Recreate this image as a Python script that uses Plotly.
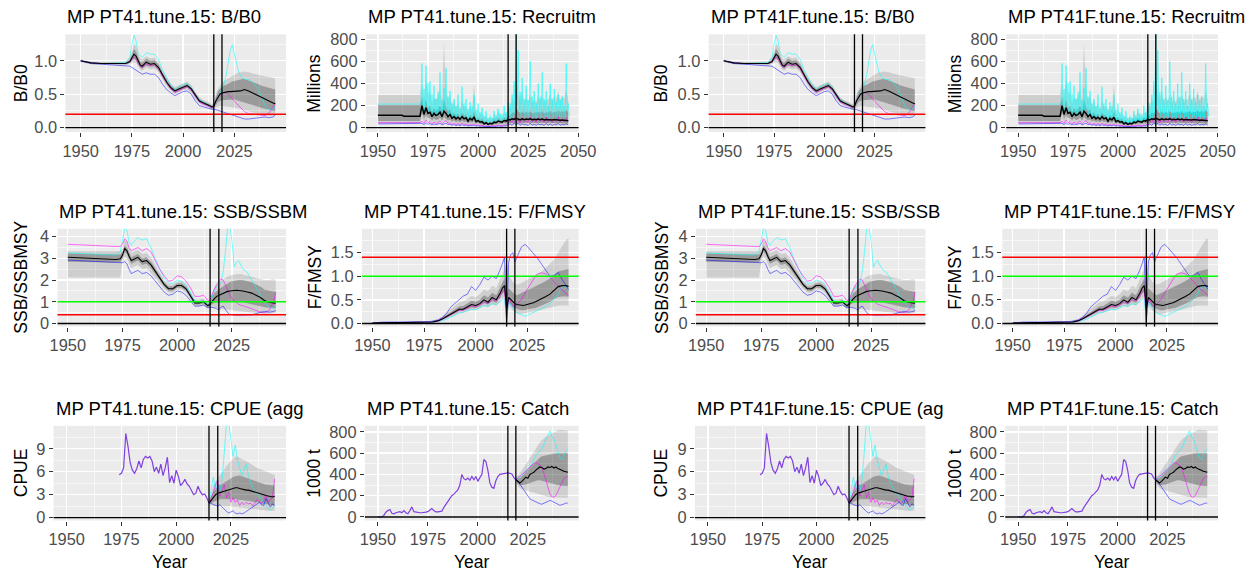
import plotly.graph_objects as go

W, H = 1254, 573

# ---------------- shared year grid for B/B0, SSB/SSBMSY, F/FMSY ----------------
YA = [1950, 1955, 1960, 1965, 1970,
      1972, 1974, 1975, 1976, 1977, 1978, 1979, 1980,
      1982, 1984, 1986, 1988, 1990, 1992, 1994, 1996, 1998, 2000,
      2002, 2004, 2006, 2008, 2010, 2012, 2013, 2014,
      2015, 2016, 2017, 2018, 2019, 2020, 2021, 2022, 2023, 2024,
      2025, 2026, 2027, 2028, 2029, 2030,
      2032, 2034, 2036, 2038, 2040, 2042, 2044, 2045]

# ---------------- B/B0 ----------------
BB0_MED = [1.00, 0.97, 0.96, 0.96, 0.96,
           0.96, 0.99, 1.04, 1.10, 1.07, 1.00, 0.94, 0.92,
           0.98, 0.95, 0.96, 0.90, 0.78, 0.68, 0.60, 0.55, 0.58, 0.61,
           0.63, 0.58, 0.48, 0.40, 0.37, 0.35, 0.33, 0.31,
           0.32, 0.40, 0.46, 0.50, 0.52, 0.53, 0.53, 0.54, 0.54, 0.54,
           0.54, 0.55, 0.55, 0.55, 0.56, 0.57,
           0.55, 0.52, 0.48, 0.45, 0.42, 0.39, 0.37, 0.36]
BB0_Q25 = [0.99, 0.96, 0.95, 0.95, 0.95,
           0.95, 0.97, 1.00, 1.03, 1.01, 0.95, 0.90, 0.88,
           0.93, 0.91, 0.92, 0.86, 0.75, 0.65, 0.57, 0.52, 0.55, 0.58,
           0.60, 0.55, 0.45, 0.38, 0.35, 0.33, 0.31, 0.29,
           0.29, 0.34, 0.38, 0.40, 0.41, 0.42, 0.42, 0.42, 0.42, 0.42,
           0.42, 0.41, 0.41, 0.40, 0.39, 0.38,
           0.36, 0.34, 0.32, 0.30, 0.28, 0.27, 0.25, 0.25]
BB0_Q75 = [1.01, 0.98, 0.97, 0.97, 0.97,
           0.97, 1.02, 1.10, 1.18, 1.14, 1.06, 0.99, 0.97,
           1.03, 1.00, 1.01, 0.95, 0.82, 0.72, 0.63, 0.58, 0.61, 0.64,
           0.66, 0.61, 0.51, 0.43, 0.39, 0.37, 0.35, 0.33,
           0.35, 0.45, 0.54, 0.58, 0.61, 0.63, 0.64, 0.66, 0.67, 0.69,
           0.70, 0.71, 0.72, 0.73, 0.73, 0.73,
           0.71, 0.68, 0.66, 0.63, 0.61, 0.60, 0.58, 0.57]
BB0_Q10 = [0.98, 0.95, 0.94, 0.94, 0.93,
           0.93, 0.95, 0.97, 0.98, 0.97, 0.92, 0.87, 0.85,
           0.90, 0.87, 0.88, 0.83, 0.72, 0.62, 0.55, 0.50, 0.53, 0.56,
           0.57, 0.52, 0.43, 0.36, 0.33, 0.31, 0.29, 0.27,
           0.27, 0.30, 0.32, 0.33, 0.33, 0.32, 0.32, 0.31, 0.31, 0.30,
           0.30, 0.29, 0.29, 0.28, 0.28, 0.27,
           0.25, 0.23, 0.21, 0.19, 0.18, 0.17, 0.17, 0.17]
BB0_Q90 = [1.02, 0.99, 0.98, 0.98, 0.99,
           0.99, 1.05, 1.16, 1.26, 1.22, 1.12, 1.04, 1.02,
           1.07, 1.04, 1.05, 0.98, 0.85, 0.75, 0.66, 0.61, 0.64, 0.67,
           0.69, 0.64, 0.53, 0.45, 0.41, 0.39, 0.37, 0.35,
           0.37, 0.50, 0.58, 0.63, 0.67, 0.70, 0.72, 0.74, 0.76, 0.78,
           0.80, 0.81, 0.82, 0.83, 0.84, 0.84,
           0.83, 0.81, 0.80, 0.78, 0.77, 0.76, 0.75, 0.74]
BB0_CYAN = [1.00, 0.97, 0.96, 0.96, 0.97,
            0.98, 1.05, 1.25, 1.38, 1.30, 1.12, 1.08, 1.05,
            1.12, 1.10, 1.10, 1.02, 0.86, 0.74, 0.64, 0.58, 0.61, 0.65,
            0.66, 0.60, 0.49, 0.41, 0.38, 0.35, 0.33, 0.31,
            0.33, 0.40, 0.46, 0.52, 0.58, 0.66, 0.78, 0.98, 1.15, 1.24,
            1.10, 0.95, 0.85, 0.78, 0.74, 0.72,
            0.72, 0.68, 0.60, 0.48, 0.33, 0.27, 0.28, 0.32]
BB0_MAG = [1.00, 0.97, 0.96, 0.96, 0.96,
           0.96, 0.98, 1.02, 1.06, 1.03, 0.96, 0.92, 0.90,
           0.95, 0.93, 0.94, 0.88, 0.76, 0.66, 0.58, 0.53, 0.56, 0.59,
           0.61, 0.56, 0.46, 0.38, 0.35, 0.33, 0.31, 0.30,
           0.32, 0.40, 0.46, 0.50, 0.52, 0.53, 0.52, 0.50, 0.47, 0.43,
           0.40, 0.37, 0.34, 0.30, 0.27, 0.24,
           0.21, 0.20, 0.20, 0.19, 0.18, 0.22, 0.32, 0.36]
BB0_BLUE = [1.00, 0.96, 0.95, 0.94, 0.93,
            0.93, 0.92, 0.90, 0.88, 0.87, 0.84, 0.82, 0.80,
            0.82, 0.80, 0.80, 0.75, 0.65, 0.57, 0.52, 0.48, 0.51, 0.54,
            0.55, 0.50, 0.40, 0.33, 0.31, 0.29, 0.28, 0.27,
            0.27, 0.27, 0.26, 0.26, 0.25, 0.23, 0.22, 0.21, 0.20, 0.19,
            0.19, 0.18, 0.17, 0.15, 0.14, 0.13,
            0.13, 0.14, 0.15, 0.15, 0.16, 0.15, 0.16, 0.19]

# ---------------- SSB/SSBMSY ----------------
SSB_MED = [3.05, 3.02, 3.00, 2.98, 2.96,
           2.95, 2.98, 3.15, 3.45, 3.35, 3.10, 2.90, 2.95,
           3.05, 2.85, 2.90, 2.70, 2.40, 2.10, 1.80, 1.60, 1.60, 1.75,
           1.75, 1.60, 1.30, 0.95, 0.95, 1.00, 0.90, 0.82,
           0.90, 1.05, 1.15, 1.25, 1.30, 1.35, 1.40, 1.45, 1.48, 1.50,
           1.52, 1.52, 1.53, 1.52, 1.52, 1.50,
           1.45, 1.40, 1.30, 1.20, 1.05, 0.98, 0.95, 0.93]
SSB_Q25 = [2.85, 2.84, 2.83, 2.82, 2.81,
           2.80, 2.82, 3.00, 3.30, 3.20, 2.95, 2.75, 2.80,
           2.90, 2.70, 2.75, 2.55, 2.27, 1.98, 1.70, 1.50, 1.50, 1.65,
           1.65, 1.50, 1.20, 0.87, 0.87, 0.92, 0.82, 0.75,
           0.80, 0.90, 0.95, 0.98, 1.00, 1.00, 1.00, 1.00, 1.00, 1.00,
           1.00, 1.00, 1.00, 1.00, 1.00, 0.98,
           0.95, 0.90, 0.85, 0.80, 0.75, 0.72, 0.70, 0.70]
SSB_Q75 = [3.22, 3.21, 3.20, 3.19, 3.18,
           3.17, 3.18, 3.30, 3.60, 3.50, 3.25, 3.05, 3.10,
           3.20, 3.00, 3.05, 2.85, 2.53, 2.22, 1.90, 1.70, 1.70, 1.85,
           1.85, 1.70, 1.40, 1.03, 1.03, 1.08, 0.98, 0.90,
           1.00, 1.25, 1.40, 1.50, 1.58, 1.65, 1.72, 1.80, 1.85, 1.90,
           1.95, 1.97, 2.00, 2.00, 2.00, 2.00,
           1.95, 1.90, 1.80, 1.70, 1.55, 1.50, 1.48, 1.45]
SSB_Q10 = [2.12, 2.12, 2.12, 2.12, 2.12,
           2.12, 2.12, 2.85, 3.10, 3.00, 2.75, 2.55, 2.60,
           2.70, 2.50, 2.55, 2.35, 2.10, 1.85, 1.60, 1.42, 1.42, 1.55,
           1.55, 1.42, 1.12, 0.80, 0.80, 0.85, 0.76, 0.70,
           0.72, 0.75, 0.75, 0.72, 0.70, 0.68, 0.66, 0.64, 0.62, 0.60,
           0.60, 0.58, 0.57, 0.56, 0.55, 0.55,
           0.53, 0.50, 0.48, 0.46, 0.45, 0.46, 0.48, 0.50]
SSB_Q90 = [3.33, 3.33, 3.33, 3.33, 3.33,
           3.33, 3.33, 3.45, 3.85, 3.75, 3.45, 3.25, 3.30,
           3.40, 3.20, 3.25, 3.05, 2.70, 2.35, 2.00, 1.80, 1.80, 1.95,
           1.95, 1.80, 1.48, 1.10, 1.10, 1.15, 1.05, 0.97,
           1.10, 1.45, 1.65, 1.80, 1.90, 1.98, 2.05, 2.10, 2.15, 2.20,
           2.25, 2.25, 2.28, 2.28, 2.28, 2.25,
           2.20, 2.15, 2.10, 2.05, 2.00, 2.00, 2.05, 2.00]
SSB_CYAN = [3.25, 3.22, 3.20, 3.18, 3.16,
            3.15, 3.30, 3.80, 4.40, 4.30, 3.75, 3.60, 3.75,
            3.95, 3.85, 3.90, 3.50, 2.95, 2.50, 2.10, 1.85, 1.85, 2.00,
            1.95, 1.80, 1.45, 1.05, 1.00, 1.05, 0.95, 0.85,
            0.95, 1.30, 1.55, 1.70, 1.75, 1.90, 2.40, 3.30, 4.40, 4.50,
            3.80, 2.60, 2.80, 2.90, 2.70, 2.50,
            2.35, 2.00, 1.70, 1.30, 0.95, 0.75, 0.70, 0.85]
SSB_MAG = [3.65, 3.62, 3.60, 3.58, 3.56,
           3.55, 3.55, 3.65, 3.90, 3.80, 3.50, 3.35, 3.40,
           3.50, 3.35, 3.45, 3.30, 2.90, 2.50, 2.20, 1.95, 2.00, 2.20,
           2.15, 1.95, 1.65, 1.25, 1.25, 1.30, 1.20, 1.05,
           1.10, 1.40, 1.60, 1.80, 1.95, 2.05, 2.00, 1.75, 1.50, 1.30,
           1.15, 1.05, 0.95, 0.88, 0.85, 0.82,
           0.75, 0.68, 0.60, 0.52, 0.50, 0.60, 1.00, 1.45]
SSB_BLUE = [2.92, 2.90, 2.88, 2.86, 2.84,
            2.83, 2.82, 2.80, 2.85, 2.75, 2.50, 2.30, 2.35,
            2.45, 2.30, 2.35, 2.20, 1.95, 1.70, 1.45, 1.30, 1.35, 1.50,
            1.45, 1.30, 1.05, 0.80, 0.80, 0.85, 0.78, 0.72,
            0.75, 0.75, 0.72, 0.68, 0.62, 0.75, 0.80, 0.65, 0.50, 0.42,
            0.40, 0.39, 0.38, 0.38, 0.38, 0.38,
            0.38, 0.40, 0.45, 0.52, 0.55, 0.52, 0.55, 0.60]

# ---------------- F/FMSY ----------------
F_MED = [0.01, 0.02, 0.02, 0.02, 0.02,
         0.02, 0.02, 0.02, 0.02, 0.02, 0.03, 0.03, 0.04,
         0.06, 0.10, 0.15, 0.20, 0.25, 0.30, 0.30, 0.35, 0.40, 0.38,
         0.42, 0.50, 0.45, 0.55, 0.50, 0.65, 0.75, 0.80,
         0.30, 0.55, 0.50, 0.45, 0.42, 0.40, 0.39, 0.38, 0.38, 0.39,
         0.40, 0.41, 0.42, 0.44, 0.46, 0.48,
         0.52, 0.57, 0.62, 0.70, 0.78, 0.80, 0.80, 0.78]
F_Q25 = [0.01, 0.02, 0.02, 0.02, 0.02,
         0.02, 0.02, 0.02, 0.02, 0.02, 0.03, 0.03, 0.04,
         0.05, 0.08, 0.12, 0.17, 0.22, 0.26, 0.27, 0.30, 0.34, 0.33,
         0.37, 0.43, 0.40, 0.47, 0.44, 0.55, 0.63, 0.67,
         0.10, 0.45, 0.40, 0.35, 0.32, 0.30, 0.29, 0.28, 0.28, 0.28,
         0.29, 0.30, 0.31, 0.32, 0.33, 0.35,
         0.38, 0.42, 0.46, 0.52, 0.56, 0.57, 0.57, 0.56]
F_Q75 = [0.01, 0.02, 0.02, 0.02, 0.02,
         0.02, 0.02, 0.03, 0.03, 0.03, 0.04, 0.04, 0.05,
         0.07, 0.13, 0.19, 0.25, 0.30, 0.36, 0.37, 0.42, 0.48, 0.46,
         0.50, 0.60, 0.55, 0.65, 0.60, 0.78, 0.88, 0.95,
         0.60, 0.75, 0.70, 0.65, 0.62, 0.60, 0.62, 0.64, 0.66, 0.68,
         0.70, 0.72, 0.74, 0.76, 0.78, 0.80,
         0.85, 0.90, 0.95, 1.02, 1.10, 1.12, 1.15, 1.15]
F_Q10 = [0.01, 0.01, 0.01, 0.01, 0.01,
         0.01, 0.01, 0.01, 0.01, 0.02, 0.02, 0.02, 0.03,
         0.04, 0.06, 0.10, 0.14, 0.18, 0.22, 0.23, 0.26, 0.29, 0.28,
         0.32, 0.37, 0.35, 0.40, 0.38, 0.47, 0.53, 0.56,
         0.02, 0.38, 0.32, 0.27, 0.24, 0.22, 0.21, 0.20, 0.20, 0.21,
         0.22, 0.23, 0.24, 0.25, 0.26, 0.27,
         0.29, 0.31, 0.33, 0.36, 0.38, 0.38, 0.38, 0.37]
F_Q90 = [0.02, 0.03, 0.03, 0.03, 0.03,
         0.03, 0.03, 0.03, 0.03, 0.04, 0.05, 0.05, 0.06,
         0.09, 0.16, 0.24, 0.30, 0.38, 0.45, 0.47, 0.52, 0.58, 0.56,
         0.62, 0.72, 0.68, 0.80, 0.75, 0.95, 1.05, 1.15,
         1.30, 1.05, 0.95, 0.88, 0.85, 0.82, 0.83, 0.85, 0.88, 0.90,
         0.93, 0.96, 0.98, 1.00, 1.02, 1.05,
         1.10, 1.18, 1.25, 1.35, 1.50, 1.65, 1.78, 1.80]
F_BLUE = [0.01, 0.03, 0.03, 0.03, 0.03,
          0.03, 0.03, 0.03, 0.03, 0.04, 0.04, 0.05, 0.06,
          0.08, 0.13, 0.22, 0.35, 0.42, 0.50, 0.58, 0.62, 0.78, 0.70,
          0.82, 0.98, 0.92, 1.00, 0.95, 1.15, 1.30, 1.40,
          0.02, 1.30, 1.45, 1.50, 1.30, 1.40, 1.50, 1.60, 1.65, 1.67,
          1.63, 1.58, 1.53, 1.48, 1.43, 1.38,
          1.25, 1.12, 1.00, 1.02, 1.08, 0.92, 0.78, 0.72]
F_CYAN = [0.01, 0.01, 0.01, 0.01, 0.01,
          0.01, 0.01, 0.01, 0.02, 0.02, 0.02, 0.02, 0.03,
          0.04, 0.06, 0.09, 0.13, 0.17, 0.22, 0.24, 0.27, 0.30, 0.29,
          0.33, 0.38, 0.36, 0.42, 0.40, 0.48, 0.50, 0.52,
          0.10, 0.45, 0.38, 0.32, 0.27, 0.22, 0.20, 0.18, 0.16, 0.15,
          0.17, 0.19, 0.21, 0.24, 0.26, 0.28,
          0.32, 0.36, 0.42, 0.52, 0.62, 0.80, 0.76, 0.72]
F_MAG = [0.01, 0.02, 0.02, 0.02, 0.02,
         0.02, 0.02, 0.02, 0.02, 0.02, 0.03, 0.03, 0.04,
         0.05, 0.09, 0.14, 0.19, 0.23, 0.28, 0.28, 0.32, 0.37, 0.35,
         0.39, 0.46, 0.42, 0.51, 0.47, 0.60, 0.68, 0.72,
         0.05, 0.55, 0.45, 0.38, 0.35, 0.40, 0.45, 0.50, 0.58, 0.65,
         0.72, 0.80, 0.88, 0.95, 1.00, 1.05,
         1.07, 1.05, 0.98, 0.88, 0.78, 0.70, 0.63, 0.60]

# ---------------- Recruitment (millions) ----------------
REC_YEARS = [1950, 1962, 1963, 1965, 1966, 1967, 1971] + list(range(1972, 2046))
# the cyan worm is recorded twice a year (seasonal recruitment)
REC_CYAN_T = [1950, 1971.5] + [y + h for y in range(1972, 2046) for h in (0.0, 0.5)]
REC_CYAN = [214, 214,
            580, 150, 350, 120, 560, 200, 400, 130,
            420, 150, 300, 110, 380, 140, 260, 100,
            320, 130, 500, 150, 250, 110, 360, 140,
            540, 160, 280, 110, 330, 120, 220, 90,
            260, 100, 200, 80, 300, 110, 180, 80,
            370, 120, 220, 90, 260, 100, 170, 70,
            230, 90, 200, 80, 300, 100, 160, 60,
            220, 70, 140, 60, 180, 60, 110, 40,
            150, 50, 90, 35, 110, 40, 90, 40,
            150, 50, 110, 45, 170, 60, 130, 50,
            120, 50, 200, 70, 140, 60, 230, 80,
            220, 80, 300, 90, 420, 120, 850, 200,
            700, 150, 320, 100, 450, 130, 260, 90,
            380, 110, 250, 90, 600, 150, 280, 90,
            330, 100, 220, 80, 400, 120, 280, 90,
            500, 130, 260, 90, 330, 100, 200, 80,
            400, 120, 260, 90, 350, 110, 230, 80,
            300, 100, 250, 90, 280, 100, 200, 80,
            580, 150, 220, 100]
REC_Q90 = [296, 296, 296, 296, 296, 296, 296,
           400, 250, 450, 300, 330, 200, 280, 250,
           280, 350, 250, 780, 350, 250, 300, 200, 250, 180,
           220, 160, 250, 180, 200, 130, 200, 150, 400, 120,
           180, 110, 140, 90, 110, 70, 100, 80, 130, 100,
           150, 110, 100, 140, 120, 200, 180, 280, 220, 480,
           300, 250, 330, 220, 280, 240, 300, 220, 260, 230,
           280, 240, 300, 230, 260, 250, 310, 240, 280, 260,
           330, 250, 290, 260, 340, 250]
REC_Q75 = [205, 205, 205, 205, 205, 205, 205,
           280, 170, 260, 180, 200, 140, 180, 150,
           170, 200, 150, 260, 190, 150, 170, 120, 140, 110,
           130, 100, 140, 110, 120, 85, 120, 95, 150, 80,
           100, 70, 85, 55, 70, 45, 65, 55, 80, 65,
           90, 75, 70, 95, 85, 120, 110, 140, 130, 180,
           150, 130, 150, 130, 145, 135, 150, 130, 140, 135,
           145, 135, 150, 130, 140, 140, 150, 135, 145, 140,
           155, 140, 150, 140, 160, 140]
REC_MED = [113, 113, 104, 104, 110, 104, 104,
           200, 120, 180, 130, 140, 100, 130, 110,
           120, 140, 100, 150, 130, 100, 120, 85, 100, 80,
           95, 75, 100, 80, 90, 60, 85, 70, 95, 55,
           65, 50, 55, 35, 45, 30, 40, 35, 50, 45,
           60, 55, 50, 65, 60, 75, 70, 80, 75, 85,
           80, 70, 80, 72, 78, 74, 80, 72, 76, 73,
           78, 72, 78, 70, 74, 72, 76, 70, 74, 70,
           72, 68, 70, 66, 68, 64]
REC_Q25 = [60, 60, 60, 60, 60, 60, 60,
           130, 80, 110, 85, 90, 65, 85, 70,
           75, 90, 65, 95, 80, 65, 75, 55, 65, 50,
           60, 48, 62, 50, 56, 38, 52, 44, 58, 35,
           40, 32, 34, 22, 28, 20, 25, 22, 32, 28,
           38, 34, 32, 40, 38, 45, 42, 46, 44, 48,
           46, 42, 46, 43, 45, 44, 46, 42, 44, 43,
           45, 42, 45, 41, 43, 42, 44, 41, 43, 41,
           42, 40, 41, 39, 40, 38]
REC_Q10 = [40, 40, 40, 40, 40, 40, 40,
           80, 50, 70, 55, 58, 42, 55, 45,
           48, 58, 42, 60, 52, 42, 48, 36, 42, 33,
           39, 31, 40, 33, 36, 25, 34, 29, 37, 23,
           26, 21, 22, 14, 18, 13, 16, 14, 20, 18,
           24, 22, 20, 26, 24, 26, 24, 27, 25, 28,
           26, 24, 26, 24, 25, 25, 26, 24, 25, 24,
           25, 24, 25, 23, 24, 24, 25, 23, 24, 23,
           24, 22, 23, 22, 23, 21]
REC_MAG = [46, 46, 46, 46, 46, 46, 46,
           60, 40, 70, 45, 55, 35, 50, 40,
           45, 60, 35, 50, 65, 40, 45, 30, 40, 28,
           38, 26, 42, 30, 34, 22, 30, 25, 36, 20,
           26, 18, 22, 14, 18, 12, 16, 14, 20, 17,
           24, 20, 18, 25, 22, 40, 60, 45, 90, 55,
           70, 40, 85, 50, 65, 45, 100, 55, 75, 45,
           90, 60, 70, 50, 95, 55, 80, 45, 70, 60,
           100, 50, 75, 55, 90, 60]
REC_BLUE = [34, 34, 34, 34, 34, 34, 34,
            40, 28, 45, 30, 38, 25, 35, 28,
            32, 40, 25, 35, 42, 28, 32, 22, 28, 20,
            26, 18, 28, 20, 24, 15, 21, 17, 24, 14,
            18, 12, 15, 10, 12, 8, 11, 9, 14, 12,
            16, 14, 12, 17, 15, 25, 35, 20, 45, 30,
            40, 22, 35, 25, 30, 18, 40, 22, 30, 20,
            35, 25, 30, 20, 38, 22, 32, 20, 28, 25,
            40, 22, 30, 24, 36, 25]

# ---------------- CPUE (aggregate) ----------------
CPUE_OBS_YEARS = list(range(1974, 2016))
CPUE_OBS = [5.6, 5.8, 6.5, 11.0, 9.3, 7.2,
            6.2, 5.8, 6.4, 7.4, 6.5, 7.6, 8.0, 7.8, 8.0, 7.4,
            6.0, 6.6, 5.8, 7.0, 5.5, 6.5, 7.9, 4.6, 5.5, 4.5,
            6.2, 5.4, 4.2, 4.5, 5.0, 4.4, 4.1, 3.6, 3.0, 3.2,
            4.1, 3.4, 3.0, 3.1, 2.6, 1.9]
CPUE_YEARS = list(range(2015, 2046))
CPUE_MED = [1.9, 2.3, 2.7, 3.0, 3.2,
            3.3, 3.3, 3.4, 3.5, 3.6, 3.7, 3.8, 3.9, 3.9, 3.8,
            3.7, 3.7, 3.6, 3.6, 3.5, 3.5, 3.4, 3.3, 3.2, 3.1,
            3.0, 2.9, 2.8, 2.8, 2.7, 2.8]
CPUE_Q75 = [2.1, 2.8, 3.4, 3.8, 4.1,
            4.3, 4.4, 4.6, 4.8, 5.0, 5.2, 5.3, 5.4, 5.5, 5.5,
            5.4, 5.3, 5.2, 5.1, 5.0, 4.9, 4.8, 4.7, 4.6, 4.5,
            4.4, 4.3, 4.3, 4.2, 4.2, 4.2]
CPUE_Q25 = [1.8, 2.0, 2.1, 2.2, 2.3,
            2.4, 2.4, 2.4, 2.4, 2.4, 2.4, 2.4, 2.4, 2.4, 2.3,
            2.3, 2.3, 2.2, 2.2, 2.1, 2.1, 2.0, 2.0, 1.9, 1.9,
            1.8, 1.8, 1.7, 1.7, 1.6, 1.6]
CPUE_Q90 = [2.2, 3.4, 4.2, 4.8, 5.2,
            5.5, 5.9, 6.3, 6.7, 7.1, 7.4, 7.7, 8.0, 8.0, 7.8,
            7.6, 7.5, 7.4, 7.2, 7.0, 6.8, 6.6, 6.5, 6.4, 6.3,
            6.2, 6.0, 5.9, 5.8, 5.7, 5.6]
CPUE_Q10 = [1.6, 1.6, 1.6, 1.6, 1.6,
            1.6, 1.6, 1.5, 1.5, 1.5, 1.5, 1.4, 1.4, 1.4, 1.3,
            1.3, 1.3, 1.2, 1.2, 1.2, 1.1, 1.1, 1.1, 1.0, 1.0,
            1.0, 0.9, 0.9, 0.9, 0.9, 0.9]
CPUE_CYAN = [1.9, 3.5, 5.3, 3.6, 4.4,
             3.5, 5.0, 8.5, 12.5, 12.5, 10.0, 8.0, 9.5, 7.5, 6.5,
             5.5, 6.2, 7.0, 5.5, 4.5, 4.0, 3.5, 3.2, 2.8, 2.5,
             2.0, 1.6, 1.2, 1.0, 1.3, 1.5]
CPUE_MAG = [1.9, 2.5, 3.3, 4.3, 4.9,
            2.8, 3.6, 4.3, 2.6, 3.3, 2.0, 2.6, 2.0, 2.3, 1.6,
            2.0, 1.7, 2.0, 1.8, 1.9, 1.5, 1.9, 2.4, 2.1, 1.8,
            2.2, 3.0, 2.1, 2.3, 2.7, 5.1]
CPUE_BLUE = [1.9, 1.9, 1.7, 1.6, 1.5,
             1.7, 1.4, 1.0, 0.8, 0.6, 0.7, 0.9, 0.6, 0.5, 0.6,
             0.5, 0.6, 0.8, 1.0, 1.2, 1.5, 1.7, 1.8, 2.0, 1.7,
             1.6, 2.5, 2.0, 1.4, 1.8, 1.6]

# ---------------- Catch (1000 t) ----------------
CATCH_OBS_YEARS = list(range(1950, 2020))
CATCH_OBS = [0, 0, 0, 15, 45, 60, 70, 35, 30, 40,
             45, 50, 40, 60, 40, 30, 60, 95, 50, 45,
             40, 40, 40, 40, 45, 50, 65, 80, 60, 48,
             48, 50, 55, 90, 120, 145, 170, 200, 215, 240,
             255, 300, 400, 360, 350, 365, 345, 380, 350, 380,
             335, 370, 400, 540, 520, 440, 320, 280, 270, 340,
             380, 400, 405, 410, 410, 415, 410, 405, 370, 350]
CATCH_YEARS = list(range(2019, 2046))
CATCH_MED = [350,
             330, 320, 335, 360, 375, 365, 400, 410, 420, 440,
             460, 470, 465, 450, 455, 470, 465, 475, 460, 470,
             455, 450, 440, 430, 425, 420]
CATCH_Q75 = [365,
             360, 365, 385, 410, 430, 445, 470, 490, 510, 530,
             550, 560, 570, 575, 580, 585, 590, 595, 595, 600,
             600, 600, 600, 600, 600, 600]
CATCH_Q25 = [340,
             310, 295, 295, 300, 305, 310, 320, 330, 335, 340,
             345, 345, 345, 340, 335, 330, 325, 320, 310, 305,
             300, 295, 290, 290, 290, 290]
CATCH_Q90 = [375,
             390, 410, 440, 470, 500, 530, 560, 590, 620, 650,
             680, 700, 720, 740, 755, 765, 775, 790, 800, 810,
             815, 820, 820, 820, 815, 810]
CATCH_Q10 = [330,
             290, 270, 260, 250, 245, 240, 235, 230, 225, 220,
             215, 210, 205, 200, 195, 190, 185, 182, 180, 178,
             178, 178, 180, 180, 180, 180]
CATCH_CYAN = [350,
              360, 370, 390, 420, 440, 450, 470, 500, 540, 580,
              600, 620, 640, 680, 720, 760, 810, 760, 730, 680,
              620, 560, 540, 580, 620, 640]
CATCH_MAG = [350,
             365, 380, 395, 410, 430, 450, 470, 490, 505, 510,
             500, 490, 470, 420, 350, 280, 220, 190, 185, 200,
             240, 290, 330, 360, 375, 380]
CATCH_BLUE = [350,
              335, 310, 280, 250, 220, 190, 170, 160, 150, 140,
              130, 125, 120, 130, 140, 150, 155, 150, 140, 130,
              115, 110, 115, 125, 130, 130]

# reference lines
VLINE_YEARS = [2015, 2019]
BB0_LIM = 0.2
SSB_TARGET, SSB_LIM = 1.0, 0.4
F_TARGET, F_LIM = 1.0, 1.4

X_TICKS = [1950, 1975, 2000, 2025]
X_TICKS_REC = [1950, 1975, 2000, 2025, 2050]
X_MINOR = [1962.5, 1987.5, 2012.5, 2037.5]

# titles as visible (cut by the cell edges in the original)
TITLES = [
    {"bb0": "MP PT41.tune.15: B/B0", "rec": "MP PT41.tune.15: Recruitm",
     "ssb": "MP PT41.tune.15: SSB/SSBM", "f": "MP PT41.tune.15: F/FMSY",
     "cpue": "MP PT41.tune.15: CPUE (agg", "catch": "MP PT41.tune.15: Catch"},
    {"bb0": "MP PT41F.tune.15: B/B0", "rec": "MP PT41F.tune.15: Recruitm",
     "ssb": "MP PT41F.tune.15: SSB/SSB", "f": "MP PT41F.tune.15: F/FMSY",
     "cpue": "MP PT41F.tune.15: CPUE (ag", "catch": "MP PT41F.tune.15: Catch"},
]
YLABELS = {"bb0": "B/B0", "rec": "Millions", "ssb": "SSB/SSBMSY",
           "f": "F/FMSY", "cpue": "CPUE", "catch": "1000 t"}

# ---------------- styling ----------------
BG = "#EBEBEB"
OUTER = "rgba(0,0,0,0.12)"
INNER = "rgba(0,0,0,0.25)"
C_CYAN = "rgba(0,255,255,0.55)"
C_MAG = "rgba(255,0,255,0.55)"
C_BLUE = "rgba(0,0,255,0.5)"
C_OBS = "#8040E0"
FAM = "Liberation Sans, Arial, sans-serif"
TICK_FONT = dict(family=FAM, size=16.4, color="#4D4D4D")
TITLE_FONT = dict(family=FAM, size=18.5, color="black")
AXT_FONT = dict(family=FAM, size=17.5, color="black")

# target positions in the picture (pixels) of each plot panel
ROW_Y = [(38.5, 135.0), (230.5, 327.0), (425.0, 518.5)]
ROW_TITLE_Y = [21, 213, 408]
PANEL_X = [
    {"bb0": (62, 286), "ssb": (54, 286), "cpue": (50, 286),
     "rec": (367, 583), "f": (363, 583), "catch": (366, 583)},
    {"bb0": (715, 935), "ssb": (702, 935), "cpue": (701, 935),
     "rec": (1017, 1232), "f": (1013, 1232), "catch": (1016, 1232)},
]
YLAB_X = [(17, 315), (667, 965)]
YEAR_Y = 559
GRID = [["bb0", "rec"], ["ssb", "f"], ["cpue", "catch"]]

# the page photograph is slightly shrunk about its centre; compensate
SX, SY = 0.994, 0.970
CX, CY = W / 2, H / 2


def tx(p):
    return (CX + (p - CX) / SX) / W


def ty(p):
    return 1 - (CY + (p - CY) / SY) / H


CFG = {
    "bb0": dict(xr=[1942.5, 2050.3], yr=[-0.065, 1.397], yt=[0, 0.5, 1.0],
                ytt=["0.0", "0.5", "1.0"], ym=[0.25, 0.75, 1.25]),
    "rec": dict(xr=[1944.0, 2050.2], yr=[-39, 844], yt=[0, 200, 400, 600, 800],
                ytt=["0", "200", "400", "600", "800"], ym=[100, 300, 500, 700]),
    "ssb": dict(xr=[1945.3, 2049.7], yr=[-0.14, 4.365], yt=[0, 1, 2, 3, 4],
                ytt=["0", "1", "2", "3", "4"], ym=[0.5, 1.5, 2.5, 3.5]),
    "f": dict(xr=[1944.9, 2049.9], yr=[-0.064, 2.003], yt=[0, 0.5, 1.0, 1.5],
              ytt=["0.0", "0.5", "1.0", "1.5"], ym=[0.25, 0.75, 1.25, 1.75]),
    "cpue": dict(xr=[1944.0, 2050.2], yr=[-0.37, 12.0], yt=[0, 3, 6, 9],
                 ytt=["0", "3", "6", "9"], ym=[1.5, 4.5, 7.5, 10.5]),
    "catch": dict(xr=[1943.5, 2050.4], yr=[-33, 857], yt=[0, 200, 400, 600, 800],
                  ytt=["0", "200", "400", "600", "800"], ym=[100, 300, 500, 700]),
}

SERIES = {
    "bb0": (YA, BB0_Q10, BB0_Q25, BB0_Q75, BB0_Q90, BB0_CYAN, BB0_MAG, BB0_BLUE, BB0_MED),
    "ssb": (YA, SSB_Q10, SSB_Q25, SSB_Q75, SSB_Q90, SSB_CYAN, SSB_MAG, SSB_BLUE, SSB_MED),
    "f": (YA, F_Q10, F_Q25, F_Q75, F_Q90, F_CYAN, F_MAG, F_BLUE, F_MED),
    "rec": (REC_YEARS, REC_Q10, REC_Q25, REC_Q75, REC_Q90, REC_CYAN, REC_MAG, REC_BLUE, REC_MED),
    "cpue": (CPUE_YEARS, CPUE_Q10, CPUE_Q25, CPUE_Q75, CPUE_Q90, CPUE_CYAN, CPUE_MAG, CPUE_BLUE, CPUE_MED),
    "catch": (CATCH_YEARS, CATCH_Q10, CATCH_Q25, CATCH_Q75, CATCH_Q90, CATCH_CYAN, CATCH_MAG, CATCH_BLUE, CATCH_MED),
}
CYAN_X = {"rec": REC_CYAN_T}
MED_W = {"rec": 1.5}
OBS = {"cpue": (CPUE_OBS_YEARS, CPUE_OBS), "catch": (CATCH_OBS_YEARS, CATCH_OBS)}
HLINES = {"bb0": [(BB0_LIM, "#FF0000")],
          "ssb": [(SSB_TARGET, "#00FF00"), (SSB_LIM, "#FF0000")],
          "f": [(F_TARGET, "#00FF00"), (F_LIM, "#FF0000")]}

fig = go.Figure()
shapes, annotations = [], []
layout_axes = {}


def band(xa, ya, xs, lo, hi, color):
    n = min(len(xs), len(lo), len(hi))
    xs, lo, hi = list(xs[:n]), list(lo[:n]), list(hi[:n])
    fig.add_trace(go.Scatter(x=xs + xs[::-1], y=hi + lo[::-1], fill="toself",
                             fillcolor=color, line=dict(width=0), mode="lines",
                             hoverinfo="skip", showlegend=False, xaxis=xa, yaxis=ya))


def line(xa, ya, xs, ys, color, width=1.0):
    n = min(len(xs), len(ys))
    fig.add_trace(go.Scatter(x=list(xs[:n]), y=list(ys[:n]), mode="lines",
                             line=dict(color=color, width=width),
                             hoverinfo="skip", showlegend=False, xaxis=xa, yaxis=ya))


idx = 0
for half in range(2):
    for r in range(3):
        for c in range(2):
            kind = GRID[r][c]
            idx += 1
            xa = "x" if idx == 1 else f"x{idx}"
            ya = "y" if idx == 1 else f"y{idx}"
            cfg = CFG[kind]
            x0, x1 = PANEL_X[half][kind]
            y0, y1 = ROW_Y[r]
            xt = X_TICKS_REC if kind == "rec" else X_TICKS
            layout_axes["xaxis" if idx == 1 else f"xaxis{idx}"] = dict(
                domain=[tx(x0), tx(x1)], range=cfg["xr"], anchor=ya,
                tickmode="array", tickvals=xt, ticktext=[str(v) for v in xt],
                showgrid=True, gridcolor="white", gridwidth=1.3,
                minor=dict(tickmode="array", tickvals=X_MINOR, showgrid=True,
                           gridcolor="white", gridwidth=0.6, ticks=""),
                zeroline=False, showline=False, ticks="outside", ticklen=4,
                tickwidth=1, tickcolor="#333333", tickfont=TICK_FONT, fixedrange=True)
            layout_axes["yaxis" if idx == 1 else f"yaxis{idx}"] = dict(
                domain=[ty(y1), ty(y0)], range=cfg["yr"], anchor=xa,
                tickmode="array", tickvals=cfg["yt"], ticktext=cfg["ytt"],
                showgrid=True, gridcolor="white", gridwidth=1.3,
                minor=dict(tickmode="array", tickvals=cfg["ym"], showgrid=True,
                           gridcolor="white", gridwidth=0.6, ticks=""),
                zeroline=False, showline=False, ticks="outside", ticklen=4,
                tickwidth=1, tickcolor="#333333", tickfont=TICK_FONT, fixedrange=True)

            yrs, q10, q25, q75, q90, cy, mg, bl, md = SERIES[kind]
            band(xa, ya, yrs, q10, q90, OUTER)
            band(xa, ya, yrs, q25, q75, INNER)
            line(xa, ya, CYAN_X.get(kind, yrs), cy, C_CYAN)
            line(xa, ya, yrs, mg, C_MAG)
            line(xa, ya, yrs, bl, C_BLUE)
            line(xa, ya, yrs, md, "black", MED_W.get(kind, 1.1))
            if kind in OBS:
                oy, ov = OBS[kind]
                line(xa, ya, oy, ov, C_OBS, 1.2)

            # reference lines
            shapes.append(dict(type="line", xref=f"{xa} domain", x0=0, x1=1, yref=ya,
                               y0=0, y1=0, line=dict(color="black", width=1.3), layer="above"))
            for yv, col in HLINES.get(kind, []):
                shapes.append(dict(type="line", xref=f"{xa} domain", x0=0, x1=1, yref=ya,
                                   y0=yv, y1=yv, line=dict(color=col, width=1.5), layer="above"))
            for xv in VLINE_YEARS:
                shapes.append(dict(type="line", xref=xa, x0=xv, x1=xv, yref=f"{ya} domain",
                                   y0=0, y1=1, line=dict(color="black", width=1.3), layer="above"))

            # title
            annotations.append(dict(text=TITLES[half][kind], x=tx(x0), y=ty(ROW_TITLE_Y[r]),
                                    xref="paper", yref="paper", xanchor="left", yanchor="middle",
                                    showarrow=False, font=TITLE_FONT))
            # y-axis title
            annotations.append(dict(text=YLABELS[kind], x=tx(YLAB_X[half][c]), y=ty((y0 + y1) / 2),
                                    xref="paper", yref="paper", xanchor="center", yanchor="middle",
                                    textangle=-90, showarrow=False, font=AXT_FONT))
            if r == 2:
                annotations.append(dict(text="Year", x=tx((x0 + x1) / 2), y=ty(YEAR_Y),
                                        xref="paper", yref="paper", xanchor="center",
                                        yanchor="middle", showarrow=False, font=AXT_FONT))

fig.update_layout(width=W, height=H, margin=dict(l=0, r=0, t=0, b=0),
                  paper_bgcolor="white", plot_bgcolor=BG, showlegend=False,
                  shapes=shapes, annotations=annotations, **layout_axes)

fig.write_html("out.html", config={"displayModeBar": False, "staticPlot": True},
               post_script="document.body.style.margin='0px';document.body.style.overflow='hidden';")
